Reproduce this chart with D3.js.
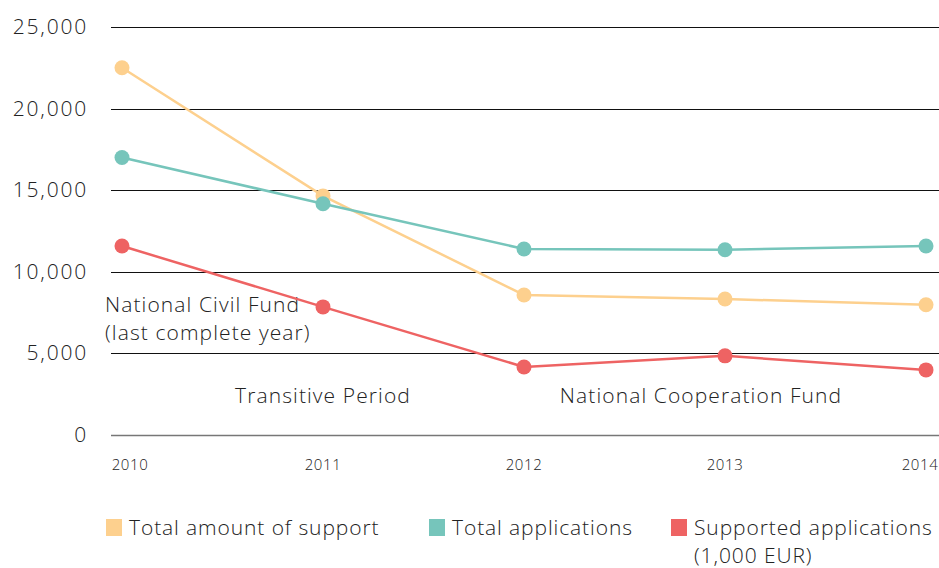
<!DOCTYPE html>
<html>
<head>
<meta charset="utf-8">
<script src="https://cdn.jsdelivr.net/npm/d3@7"></script>
<style>
  body { margin: 0; background: #fff; }
  svg text { font-family: "Open Sans", Lato, sans-serif; font-weight: 300; fill: #222; }
</style>
</head>
<body>
<svg id="chart" width="939" height="568"></svg>
<script>
// données
const years = ["2010", "2011", "2012", "2013", "2014"];
const totalSupport = [22500, 14650, 8580, 8330, 7980];
const totalApplications = [17000, 14170, 11400, 11350, 11580];
const supportedApplications = [11580, 7850, 4170, 4850, 3990];
const yTicks = [0, 5000, 10000, 15000, 20000, 25000];

const series = [
  { name: "Total amount of support", values: totalSupport, color: "#fdd08e" },
  { name: "Total applications", values: totalApplications, color: "#76c5bb" },
  { name: "Supported applications", values: supportedApplications, color: "#ee6363" }
];

const svg = d3.select("#chart");

const x = d3.scalePoint().domain(years).range([122, 926]);
const y = d3.scaleLinear().domain([0, 25000]).range([435, 27]);
const fmt = d3.format(",");

// lignes de grille
svg.append("g").selectAll("line")
  .data(yTicks)
  .join("line")
  .attr("x1", 111).attr("x2", 939)
  .attr("y1", d => Math.round(y(d)) + 0.5).attr("y2", d => Math.round(y(d)) + 0.5)
  .attr("stroke", d => d === 0 ? "#777" : "#111")
  .attr("stroke-width", d => d === 0 ? 1.6 : 1);

// axe y
svg.append("g").selectAll("text")
  .data(yTicks)
  .join("text")
  .attr("x", 88)
  .attr("y", d => y(d) + 7)
  .attr("text-anchor", "end")
  .style("font-size", "21px")
  .style("letter-spacing", "1.8px")
  .text(d => fmt(d));

// axe x (étiquettes gardées dans la zone)
svg.append("g").selectAll("text")
  .data(years)
  .join("text")
  .attr("x", d => Math.max(130, Math.min(920, x(d))))
  .attr("y", 470)
  .attr("text-anchor", "middle")
  .style("font-size", "15px")
  .style("letter-spacing", "0.6px")
  .text(d => d);

// périodes
const notes = svg.append("g").style("font-size", "21px").style("letter-spacing", "1.1px");
notes.append("text").attr("x", 105).attr("y", 312).text("National Civil Fund");
notes.append("text").attr("x", 105).attr("y", 340).text("(last complete year)");
notes.append("text").attr("x", x("2011")).attr("y", 403).attr("text-anchor", "middle").text("Transitive Period");
notes.append("text").attr("x", 701).attr("y", 403).attr("text-anchor", "middle").text("National Cooperation Fund");

// courbes
const line = d3.line().x((d, i) => x(years[i])).y(d => y(d));

const seriesG = svg.append("g").selectAll("g")
  .data(series)
  .join("g");

seriesG.append("path")
  .attr("d", d => line(d.values))
  .attr("fill", "none")
  .attr("stroke", d => d.color)
  .attr("stroke-width", 2.5);

seriesG.selectAll("circle")
  .data(d => d.values.map((v, i) => ({ v, i, color: d.color })))
  .join("circle")
  .attr("cx", d => x(years[d.i]))
  .attr("cy", d => y(d.v))
  .attr("r", 7.5)
  .attr("fill", d => d.color);

// légende
const legendX = [106, 429, 671];
const legend = svg.append("g")
  .style("font-size", "21px")
  .style("letter-spacing", "0.9px")
  .selectAll("g")
  .data(series)
  .join("g")
  .attr("transform", (d, i) => `translate(${legendX[i]},519)`);

legend.append("rect").attr("width", 16).attr("height", 17).attr("fill", d => d.color);
legend.append("text").attr("x", 23).attr("y", 16).text(d => d.name);
svg.append("text").attr("x", 694).attr("y", 563)
  .style("font-size", "21px").style("letter-spacing", "0.9px")
  .text("(1,000 EUR)");
</script>
</body>
</html>
